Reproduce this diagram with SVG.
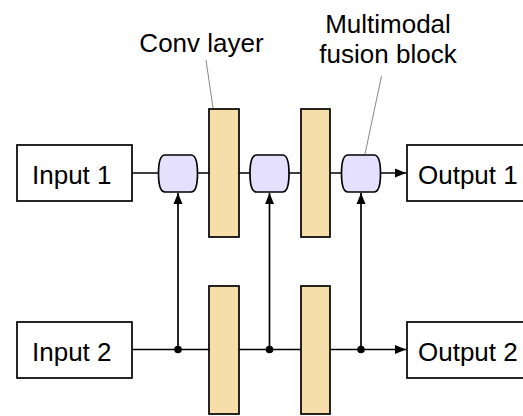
<svg xmlns="http://www.w3.org/2000/svg" width="523" height="416" viewBox="0 0 523 416">
<defs>
<style>
.box{fill:#fff;stroke:#000;stroke-width:1.7}
.conv{fill:#f5dea9;stroke:#000;stroke-width:1.7}
.fuse{fill:#e6e0ff;stroke:#000;stroke-width:1.7}
.lbl{font-family:"Liberation Sans",Arial,sans-serif;font-size:26px;fill:#000}
.wire{stroke:#000;stroke-width:1.7;fill:none}
.lead{stroke:#888;stroke-width:1;fill:none}
</style>
<marker id="arr" viewBox="0 0 11 10" refX="11" refY="5" markerWidth="11" markerHeight="10" markerUnits="userSpaceOnUse" orient="auto">
<path d="M0,0.5 L11,5 L0,9.5 Z" fill="#000"/>
</marker>
<path id="fz" d="M-13,-18.5 H13 C18,-18.5 19.5,-9 19.5,0 C19.5,9 18,18.5 13,18.5 H-13 C-18,18.5 -19.5,9 -19.5,0 C-19.5,-9 -18,-18.5 -13,-18.5 Z"/>
</defs>
<rect width="523" height="416" fill="#fff"/>
<g id="connectors">
<line class="wire" x1="132" y1="173" x2="406" y2="173" marker-end="url(#arr)"/>
<line class="wire" x1="132" y1="349.5" x2="406" y2="349.5" marker-end="url(#arr)"/>
<line class="wire" x1="178" y1="349.5" x2="178" y2="193" marker-end="url(#arr)"/>
<line class="wire" x1="269.5" y1="349.5" x2="269.5" y2="193" marker-end="url(#arr)"/>
<line class="wire" x1="361" y1="349.5" x2="361" y2="193" marker-end="url(#arr)"/>
<circle cx="178" cy="349.5" r="3.8" fill="#000"/>
<circle cx="269.5" cy="349.5" r="3.8" fill="#000"/>
<circle cx="361" cy="349.5" r="3.8" fill="#000"/>
<line class="lead" x1="206" y1="60" x2="213" y2="108"/>
<line class="lead" x1="381.5" y1="76" x2="365" y2="154"/>
</g>
<g id="input1"><rect class="box" x="17" y="145" width="115" height="56"/><text class="lbl" x="32" y="184">Input 1</text></g>
<g id="input2"><rect class="box" x="17" y="322" width="115" height="56"/><text class="lbl" x="32" y="361">Input 2</text></g>
<g id="output1"><rect class="box" x="407" y="145" width="120" height="56"/><text class="lbl" x="418" y="184">Output 1</text></g>
<g id="output2"><rect class="box" x="407" y="322" width="120" height="56"/><text class="lbl" x="418" y="361">Output 2</text></g>
<g id="conv1"><rect class="conv" x="209" y="109" width="30" height="128"/></g>
<g id="conv2"><rect class="conv" x="301" y="109" width="29" height="128"/></g>
<g id="conv3"><rect class="conv" x="209" y="286" width="30" height="128"/></g>
<g id="conv4"><rect class="conv" x="301" y="286" width="29" height="128"/></g>
<g id="fusion1"><use href="#fz" class="fuse" x="178" y="173.5"/></g>
<g id="fusion2"><use href="#fz" class="fuse" x="269.5" y="173.5"/></g>
<g id="fusion3"><use href="#fz" class="fuse" x="361" y="173.5"/></g>
<g id="label-conv"><text class="lbl" x="201.5" y="52" text-anchor="middle">Conv layer</text></g>
<g id="label-fusion"><text class="lbl" x="388" y="33" text-anchor="middle">Multimodal</text><text class="lbl" x="388" y="63" text-anchor="middle">fusion block</text></g>
</svg>
